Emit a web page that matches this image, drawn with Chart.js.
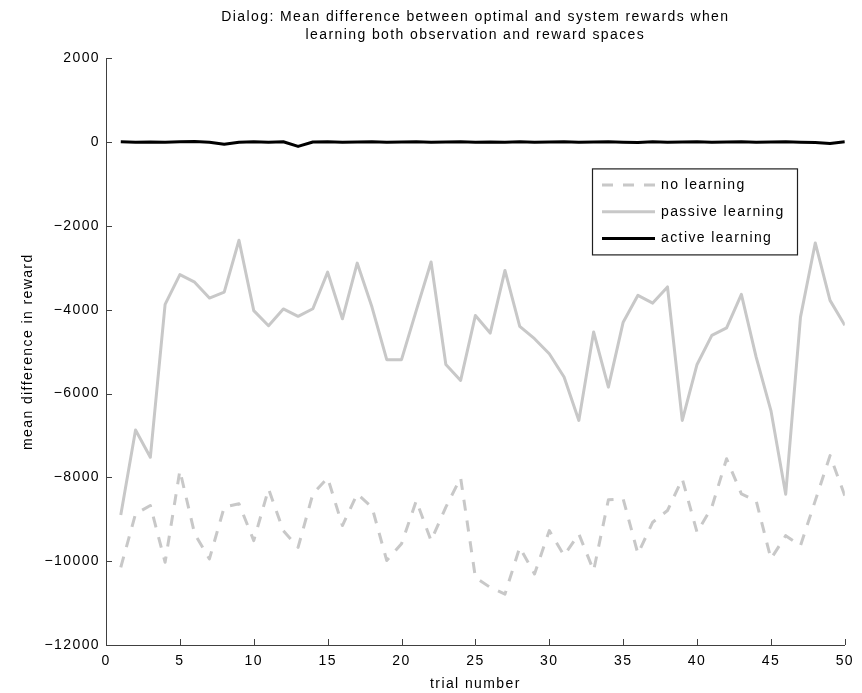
<!DOCTYPE html>
<html>
<head>
<meta charset="utf-8">
<script src="https://cdn.jsdelivr.net/npm/chart.js@4.4.1/dist/chart.umd.min.js"></script>
<style>
  html, body { margin: 0; padding: 0; background: #fff; }
  #wrap { width: 862px; height: 693px; position: relative; }
</style>
</head>
<body>
<div id="wrap"><canvas id="c" width="862" height="693"></canvas></div>
<script>
const trials = [1,2,3,4,5,6,7,8,9,10,11,12,13,14,15,16,17,18,19,20,21,22,23,24,25,26,27,28,29,30,31,32,33,34,35,36,37,38,39,40,41,42,43,44,45,46,47,48,49,50];

const noLearning = [-10145,-8870,-8670,-10025,-7835,-9350,-9945,-8710,-8630,-9510,
  -8275,-9270,-9670,-8395,-8010,-9150,-8395,-8710,-9985,-9585,
  -8555,-9510,-8710,-8010,-10390,-10625,-10785,-9670,-10305,-9270,
  -9865,-9350,-10225,-8535,-8515,-9825,-9070,-8790,-8035,-9310,
  -8710,-7555,-8395,-8555,-9945,-9390,-9630,-8555,-7480,-8435];

const passiveLearning = [-8900,-6870,-7520,-3870,-3160,-3340,-3720,-3580,-2340,-4020,
  -4380,-3980,-4155,-3975,-3100,-4215,-2885,-3935,-5190,-5190,
  -4015,-2860,-5305,-5685,-4135,-4555,-3060,-4395,-4690,-5050,
  -5605,-6640,-4530,-5845,-4295,-3655,-3840,-3455,-6640,-5305,
  -4610,-4430,-3630,-5130,-6405,-8400,-4175,-2405,-3775,-4370];

const activeLearning = [10,0,5,0,10,15,0,-50,0,10,
  0,10,-100,5,10,0,5,10,0,5,
  10,0,5,10,0,5,0,10,0,5,
  10,0,5,10,0,-5,10,0,5,10,
  0,5,10,0,5,10,0,-10,-30,10];

const seriesNames = ['no learning', 'passive learning', 'active learning'];
const xTicks = [0,5,10,15,20,25,30,35,40,45,50];
const yTicks = [2000,0,-2000,-4000,-6000,-8000,-10000,-12000];
const titleLines = ['Dialog: Mean difference between optimal and system rewards when',
                    'learning both observation and reward spaces'];
const xLabel = 'trial number';
const yLabel = 'mean difference in reward';

const FONT = "'Liberation Sans', Arial, Helvetica, sans-serif";
const LS = '1.4px';
const GRAY = '#c8c8c8';

function pts(arr) { return trials.map((t, i) => ({ x: t, y: arr[i] })); }

const spacingPlugin = {
  id: 'spacing',
  beforeLayout(chart) { chart.ctx.letterSpacing = LS; },
  beforeDraw(chart) { chart.ctx.letterSpacing = LS; }
};

const innerTicks = {
  id: 'innerTicks',
  afterDraw(chart) {
    const ctx = chart.ctx;
    const xs = chart.scales.x, ys = chart.scales.y;
    const ca = chart.chartArea;
    ctx.save();
    ctx.strokeStyle = '#404040';
    ctx.lineWidth = 1;
    ctx.beginPath();
    xTicks.forEach(v => {
      const px = Math.round(xs.getPixelForValue(v)) + 0.5;
      ctx.moveTo(px, ca.bottom);
      ctx.lineTo(px, ca.bottom - 6);
    });
    yTicks.forEach(v => {
      const py = Math.round(ys.getPixelForValue(v)) + 0.5;
      ctx.moveTo(ca.left, py);
      ctx.lineTo(ca.left + 6, py);
    });
    ctx.stroke();
    ctx.restore();
  }
};

const boxLegend = {
  id: 'boxLegend',
  afterDraw(chart) {
    const ctx = chart.ctx;
    const ca = chart.chartArea;
    const bx = ca.left + 486, by = ca.top + 110, bw = 205, bh = 86;
    ctx.save();
    ctx.fillStyle = '#fff';
    ctx.fillRect(bx, by, bw, bh);
    ctx.strokeStyle = '#202020';
    ctx.lineWidth = 1.2;
    ctx.strokeRect(bx + 0.5, by + 0.5, bw, bh);
    const order = [1, 0, 2];
    order.forEach((di, row) => {
      const ds = chart.data.datasets[di];
      const y = by + 16.5 + row * 26.8;
      ctx.beginPath();
      ctx.setLineDash(ds.borderDash || []);
      ctx.lineCap = 'butt';
      ctx.strokeStyle = ds.borderColor;
      ctx.lineWidth = ds.borderWidth;
      ctx.moveTo(bx + 10, y);
      ctx.lineTo(bx + 63, y);
      ctx.stroke();
      ctx.setLineDash([]);
      ctx.fillStyle = '#000';
      ctx.font = "14px " + FONT;
      ctx.letterSpacing = LS;
      ctx.textBaseline = 'middle';
      ctx.textAlign = 'left';
      ctx.fillText(ds.label, bx + 69, y);
    });
    ctx.restore();
  }
};

new Chart(document.getElementById('c'), {
  type: 'line',
  data: {
    datasets: [
      { label: seriesNames[1], data: pts(passiveLearning), borderColor: GRAY, borderWidth: 3,
        pointRadius: 0, tension: 0, fill: false, borderJoinStyle: 'round' },
      { label: seriesNames[0], data: pts(noLearning), borderColor: GRAY, borderWidth: 3,
        borderDash: [11, 10], pointRadius: 0, tension: 0, fill: false, borderJoinStyle: 'round' },
      { label: seriesNames[2], data: pts(activeLearning), borderColor: '#000', borderWidth: 3,
        pointRadius: 0, tension: 0, fill: false, borderJoinStyle: 'round' }
    ]
  },
  options: {
    responsive: false,
    animation: false,
    events: [],
    layout: { padding: { left: 0, right: 17, top: 0, bottom: 0 } },
    plugins: {
      legend: { display: false },
      tooltip: { enabled: false },
      title: {
        display: true,
        fullSize: false,
        text: titleLines,
        color: '#000',
        font: { family: FONT, size: 14, weight: 'normal', lineHeight: 1.3 },
        padding: { top: 8, bottom: 14 }
      }
    },
    scales: {
      x: {
        type: 'linear',
        min: 0, max: 50,
        afterBuildTicks(s) { s.ticks = xTicks.map(v => ({ value: v })); },
        ticks: { color: '#000', font: { family: FONT, size: 14 }, padding: 8, maxRotation: 0,
                 callback: v => String(v) },
        grid: { display: false, drawTicks: false },
        border: { display: true, color: '#404040', width: 1 },
        title: { display: true, text: xLabel, color: '#000',
                 font: { family: FONT, size: 14 }, padding: { top: 0, bottom: 0 } },
        afterFit(s) { s.height = 48; }
      },
      y: {
        type: 'linear',
        min: -12000, max: 2000,
        afterBuildTicks(s) { s.ticks = yTicks.map(v => ({ value: v })); },
        ticks: { color: '#000', font: { family: FONT, size: 14 }, padding: 6,
                 callback: v => (v < 0 ? '\u2212' + Math.abs(v) : String(v)) },
        grid: { display: false, drawTicks: false },
        border: { display: true, color: '#404040', width: 1 },
        title: { display: true, text: yLabel, color: '#000',
                 font: { family: FONT, size: 14 }, padding: { top: 20, bottom: 0 } },
        afterFit(s) { s.width = 106; }
      }
    }
  },
  plugins: [spacingPlugin, innerTicks, boxLegend]
});
</script>
</body>
</html>
